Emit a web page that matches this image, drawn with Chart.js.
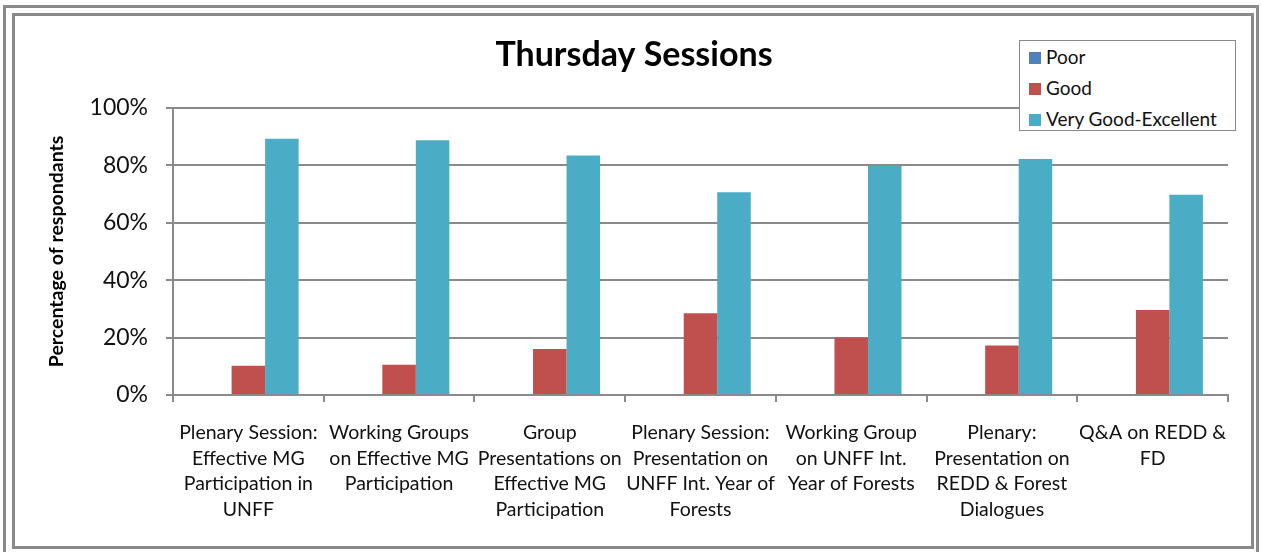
<!DOCTYPE html>
<html>
<head>
<meta charset="utf-8">
<title>Thursday Sessions</title>
<script src="https://cdn.jsdelivr.net/npm/chart.js@4.4.0/dist/chart.umd.min.js"></script>
<style>
  html, body { margin: 0; padding: 0; background: #fff; }
  #wrap { position: relative; width: 1262px; height: 552px; overflow: hidden; }
  .frame { position: absolute; border: 3px solid #8a8a8a; box-sizing: border-box; }
  #outer { left: 3px; top: 5px; width: 1256px; height: 552px; }
  #inner { left: 12px; top: 13px; width: 1242px; height: 536px; }
  #chart { position: absolute; left: 0; top: 0; }
  #legend {
    position: absolute; left: 1019px; top: 40px; width: 217px; height: 91px;
    border: 1.5px solid #8a8a8a; box-sizing: border-box; background: #fff;
    font-family: Lato, "Open Sans", sans-serif; font-size: 19px; color: #111;
    padding: 3px 0 0 9px;
  }
  #legend div { height: 31px; line-height: 26px; white-space: nowrap; }
  #legend span.sw { display: inline-block; width: 12px; height: 12px; margin-right: 5px; vertical-align: 0px; }
</style>
</head>
<body>
<div id="wrap">
  <div class="frame" id="outer"></div>
  <div class="frame" id="inner"></div>
  <canvas id="chart" width="1262" height="552"></canvas>
  <div id="legend"></div>
</div>
<script>
// chart data
const categories = [
  ["Plenary Session:", "Effective MG", "Participation in", "UNFF"],
  ["Working Groups", "on Effective MG", "Participation"],
  ["Group", "Presentations on", "Effective MG", "Participation"],
  ["Plenary Session:", "Presentation on", "UNFF Int. Year of", "Forests"],
  ["Working Group", "on UNFF Int.", "Year of Forests"],
  ["Plenary:", "Presentation on", "REDD & Forest", "Dialogues"],
  ["Q&A on REDD &", "FD"]
];
const seriesNames = ["Poor", "Good", "Very Good-Excellent"];
const poor = [0, 0, 0, 0, 0, 0, 0];
const good = [10.2, 10.5, 16.0, 28.5, 20.0, 17.2, 29.6];
const veryGood = [89.2, 88.7, 83.4, 70.6, 79.7, 82.2, 69.7];
const yTicks = [0, 20, 40, 60, 80, 100];
const colors = ["#4F81BD", "#C0504D", "#4BACC6"];

const FONT = 'Lato, "Open Sans", sans-serif';
const GRID = "#8a8a8a";

const ctx = document.getElementById("chart").getContext("2d");
const chart = new Chart(ctx, {
  type: "bar",
  data: {
    labels: categories,
    datasets: [poor, good, veryGood].map((d, i) => ({
      label: seriesNames[i],
      data: d,
      backgroundColor: colors[i],
      borderWidth: 0,
      categoryPercentage: 0.667,
      barPercentage: 1.0
    }))
  },
  options: {
    responsive: false,
    animation: false,
    layout: { padding: { left: 40, right: 34, top: 0, bottom: 0 } },
    plugins: {
      legend: { display: false },
      tooltip: { enabled: false },
      title: {
        display: true,
        text: "Thursday Sessions",
        color: "#000",
        font: { family: FONT, size: 34, weight: "bold" },
        padding: { top: 35, bottom: 32 }
      }
    },
    scales: {
      x: {
        grid: { display: true, drawOnChartArea: false, drawTicks: true, tickLength: 7, color: GRID, lineWidth: 2, offset: true },
        border: { display: true, color: GRID, width: 2 },
        ticks: {
          color: "#111", maxRotation: 0, autoSkip: false, padding: 18,
          font: { family: FONT, size: 19.5, lineHeight: 1.31 }
        },
        afterFit: s => { s.height = 552 - 395; }
      },
      y: {
        min: 0, max: 100,
        afterBuildTicks: s => { s.ticks = yTicks.map(v => ({ value: v })); },
        grid: { color: GRID, lineWidth: 2, tickLength: 7 },
        border: { display: true, color: GRID, width: 2 },
        ticks: {
          color: "#111", padding: 18,
          font: { family: FONT, size: 23 },
          callback: v => v + "%"
        },
        title: {
          display: true, text: "Percentage of respondants", color: "#000",
          font: { family: FONT, size: 19.5, weight: "bold" },
          padding: { top: 5, bottom: 0 }
        },
        afterFit: s => { s.width = 173 - 40; }
      }
    }
  }
});

// legend box (top right, overlapping the plot like the original)
const legendEl = document.getElementById("legend");
chart.data.datasets.forEach(ds => {
  const row = document.createElement("div");
  row.innerHTML = `<span class="sw" style="background:${ds.backgroundColor}"></span>${ds.label}`;
  legendEl.appendChild(row);
});
</script>
</body>
</html>
